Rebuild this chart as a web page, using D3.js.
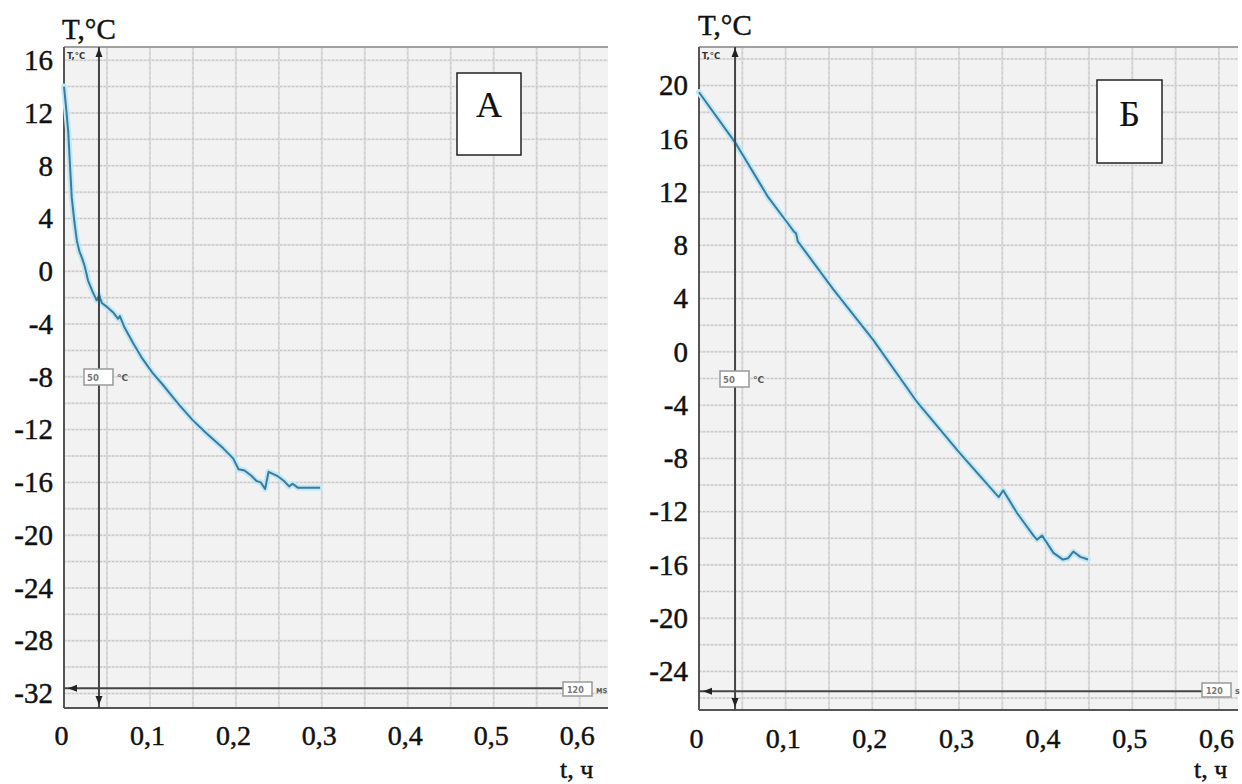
<!DOCTYPE html>
<html><head><meta charset="utf-8">
<script src="https://cdn.jsdelivr.net/npm/d3@7"></script>
<style>
body{margin:0;background:#fff;}
svg{display:block;}
.serif{font-family:"Liberation Serif","Times New Roman","DejaVu Serif",serif;stroke:#111;stroke-width:0.45px;}
</style></head><body>
<svg id="c" width="1242" height="784"></svg>
<script>
// ---- data ----
const timeA = [0.000,0.003,0.005,0.007,0.009,0.012,0.015,0.018,0.021,0.024,0.028,0.033,0.038,0.041,0.044,0.050,0.057,0.063,0.065,0.070,0.080,0.090,0.103,0.115,0.125,0.135,0.150,0.166,0.185,0.197,0.203,0.210,0.218,0.224,0.229,0.234,0.238,0.248,0.256,0.262,0.266,0.272,0.283,0.298];
const tempA = [14.0,12.0,10.5,8.0,5.6,3.8,2.3,1.5,1.0,0.4,-0.7,-1.5,-2.2,-1.8,-2.4,-2.7,-3.1,-3.6,-3.4,-4.2,-5.4,-6.5,-7.7,-8.6,-9.4,-10.2,-11.3,-12.3,-13.4,-14.2,-15.0,-15.1,-15.5,-15.9,-16.0,-16.5,-15.2,-15.5,-15.9,-16.3,-16.1,-16.4,-16.4,-16.4];
const timeB = [0.000,0.042,0.080,0.102,0.110,0.112,0.114,0.155,0.201,0.252,0.301,0.343,0.346,0.351,0.367,0.386,0.390,0.396,0.409,0.420,0.426,0.432,0.440,0.449];
const tempB = [19.5,15.7,11.6,9.7,9.0,8.9,8.3,4.7,0.9,-3.8,-7.6,-10.7,-10.9,-10.4,-12.1,-13.8,-14.1,-13.8,-15.1,-15.6,-15.5,-15.0,-15.4,-15.6];
const yTicksA = [16,12,8,4,0,-4,-8,-12,-16,-20,-24,-28,-32];
const yTicksB = [20,16,12,8,4,0,-4,-8,-12,-16,-20,-24];
const xTicks = [0,0.1,0.2,0.3,0.4,0.5,0.6];
const xTickLabels = ["0","0,1","0,2","0,3","0,4","0,5","0,6"];
const panelLabels = ["А","Б"];
const yTitle = "T,°C";
const xTitle = "t, ч";
const cursorTime = [0.0407,0.0416];
const cursorTemp = [-31.6,-25.5];
const cursorValue = "50";
const cursorUnit = "°C";
const spanValue = "120";
const spanUnit = ["мs","s"];
const innerTitle = "T,°C";

// ---- layout ----
const panels = [
  {left:64, top:47, right:608, bottom:708, xMax:0.633, yMin:-33.1, yMax:17,
   time:timeA, temp:tempA, yTicks:yTicksA, label:panelLabels[0], ct:cursorTime[0], cT:cursorTemp[0],
   box:[457,73,521,155], labelY:117, xLabY:745, titleX:62, titleY:39, xtX:560, vBox:[84,369], hBox:[563,682]},
  {left:699, top:47, right:1238, bottom:710, xMax:0.622, yMin:-26.9, yMax:22.9,
   time:timeB, temp:tempB, yTicks:yTicksB, label:panelLabels[1], ct:cursorTime[1], cT:cursorTemp[1],
   box:[1097,80,1162,163], labelY:126, xLabY:748, titleX:698, titleY:35, xtX:1194, vBox:[720,371], hBox:[1202,683]}
];
const svg = d3.select("#c");
const sans = "'DejaVu Sans',sans-serif";

panels.forEach((p,i)=>{
  const x = d3.scaleLinear().domain([0,p.xMax]).range([p.left,p.right]);
  const y = d3.scaleLinear().domain([p.yMin,p.yMax]).range([p.bottom,p.top]);
  const g = svg.append("g");
  const cid = "clip"+i;
  g.append("clipPath").attr("id",cid).append("rect")
    .attr("x",p.left).attr("y",p.top).attr("width",p.right-p.left).attr("height",p.bottom-p.top);
  g.append("rect").attr("x",p.left).attr("y",p.top).attr("width",p.right-p.left).attr("height",p.bottom-p.top)
    .attr("fill","#f2f2f2");
  const grid = g.append("g").attr("clip-path",`url(#${cid})`);
  const hVals = d3.range(Math.ceil(p.yMin/2)*2, p.yMax+0.01, 2);
  const vVals = d3.range(0.05, p.xMax, 0.05);
  grid.selectAll(".hb").data(hVals).join("line")
    .attr("x1",p.left).attr("x2",p.right).attr("y1",d=>y(d)).attr("y2",d=>y(d))
    .attr("stroke","#e0e0e0").attr("stroke-width",2);
  grid.selectAll(".vb").data(vVals).join("line")
    .attr("y1",p.top).attr("y2",p.bottom).attr("x1",d=>x(d)).attr("x2",d=>x(d))
    .attr("stroke","#dadada").attr("stroke-width",2);
  grid.selectAll(".hd").data(hVals).join("line")
    .attr("x1",p.left).attr("x2",p.right).attr("y1",d=>y(d)).attr("y2",d=>y(d))
    .attr("stroke","#c4c4c4").attr("stroke-width",1).attr("stroke-dasharray","2,2");
  grid.selectAll(".vd").data(vVals).join("line")
    .attr("y1",p.top).attr("y2",p.bottom).attr("x1",d=>x(d)).attr("x2",d=>x(d))
    .attr("stroke","#cacaca").attr("stroke-width",1).attr("stroke-dasharray","2,3");

  // frame
  g.append("line").attr("x1",p.left).attr("x2",p.right).attr("y1",p.top).attr("y2",p.top)
    .attr("stroke","#a0a0a0").attr("stroke-width",2);
  g.append("line").attr("x1",p.left).attr("x2",p.left).attr("y1",p.top).attr("y2",p.bottom)
    .attr("stroke","#555").attr("stroke-width",2);
  g.append("line").attr("x1",p.left).attr("x2",p.right).attr("y1",p.bottom).attr("y2",p.bottom)
    .attr("stroke","#555").attr("stroke-width",2);

  // curve
  const pts = p.time.map((t,k)=>[t,p.temp[k]]);
  const line = d3.line().x(d=>x(d[0])).y(d=>y(d[1]));
  g.append("path").attr("d",line(pts)).attr("fill","none").attr("stroke","#c2e8f6")
    .attr("stroke-width",6).attr("stroke-linejoin","round").attr("stroke-linecap","round");
  g.append("path").attr("d",line(pts)).attr("fill","none").attr("stroke","#3b7b9b")
    .attr("stroke-width",2).attr("stroke-linejoin","round");

  // cursors
  const cx = x(p.ct), cy = y(p.cT);
  g.append("line").attr("x1",cx).attr("x2",cx).attr("y1",p.top).attr("y2",p.bottom)
    .attr("stroke","#444").attr("stroke-width",2);
  g.append("line").attr("x1",p.left).attr("x2",p.hBox[0]).attr("y1",cy).attr("y2",cy)
    .attr("stroke","#444").attr("stroke-width",2);
  g.append("path").attr("d",`M${cx-3.5},${p.top+10}L${cx+3.5},${p.top+10}L${cx},${p.top+1}Z`).attr("fill","#222");
  g.append("path").attr("d",`M${cx-3.5},${p.bottom-12}L${cx+3.5},${p.bottom-12}L${cx},${p.bottom-3}Z`).attr("fill","#222");
  g.append("path").attr("d",`M${p.left+4},${cy}L${p.left+13},${cy-3.5}L${p.left+13},${cy+3.5}Z`).attr("fill","#222");
  g.append("text").attr("x",p.left+3).attr("y",p.top+12).text(innerTitle)
    .style("font-family",sans).attr("font-weight","bold").attr("font-size",8.5).attr("fill","#333");
  g.append("rect").attr("x",p.vBox[0]).attr("y",p.vBox[1]).attr("width",29).attr("height",16)
    .attr("fill","#fff").attr("stroke","#999").attr("stroke-width",1.5);
  g.append("text").attr("x",p.vBox[0]+3).attr("y",p.vBox[1]+12).text(cursorValue)
    .style("font-family",sans).attr("font-weight","bold").attr("font-size",8.5).attr("fill","#777");
  g.append("text").attr("x",p.vBox[0]+33).attr("y",p.vBox[1]+12).text(cursorUnit)
    .style("font-family",sans).attr("font-weight","bold").attr("font-size",9).attr("fill","#555");
  g.append("rect").attr("x",p.hBox[0]).attr("y",p.hBox[1]).attr("width",29).attr("height",14)
    .attr("fill","#fff").attr("stroke","#999").attr("stroke-width",1.5);
  g.append("text").attr("x",p.hBox[0]+4).attr("y",p.hBox[1]+11).text(spanValue)
    .style("font-family",sans).attr("font-weight","bold").attr("font-size",8).attr("fill","#777");
  g.append("text").attr("x",p.hBox[0]+33).attr("y",p.hBox[1]+11).text(spanUnit[i])
    .style("font-family",sans).attr("font-weight","bold").attr("font-size",8).attr("fill","#666");

  // panel letter box
  g.append("rect").attr("x",p.box[0]).attr("y",p.box[1]).attr("width",p.box[2]-p.box[0]).attr("height",p.box[3]-p.box[1])
    .attr("fill","#fff").attr("stroke","#222").attr("stroke-width",1.5);
  g.append("text").attr("class","serif").attr("x",(p.box[0]+p.box[2])/2).attr("y",p.labelY).attr("text-anchor","middle")
    .text(p.label).attr("font-size",36).attr("fill","#111").style("stroke-width","0.2px");

  // axes
  const ya = g.append("g").attr("transform",`translate(${p.left},0)`)
    .call(d3.axisLeft(y).tickValues(p.yTicks).tickSize(0).tickPadding(11).tickFormat(d=>String(d)));
  ya.attr("font-family",null).attr("font-size",null);
  ya.select(".domain").remove();
  ya.selectAll("text").attr("class","serif").attr("font-size",29).attr("fill","#111");
  const xa = g.append("g").attr("transform",`translate(0,${p.bottom})`)
    .call(d3.axisBottom(x).tickValues(xTicks).tickSize(0).tickFormat((d,k)=>xTickLabels[k]));
  xa.attr("font-family",null).attr("font-size",null);
  xa.select(".domain").remove();
  xa.selectAll("text").attr("class","serif").attr("y",p.xLabY-p.bottom).attr("dy",0).attr("dx",-3)
    .attr("font-size",28).attr("fill","#111");

  // titles
  g.append("text").attr("class","serif").attr("x",p.titleX).attr("y",p.titleY).text(yTitle)
    .attr("font-size",29).attr("fill","#111");
  g.append("text").attr("class","serif").attr("x",p.xtX).attr("y",778).text(xTitle)
    .attr("font-size",26).attr("fill","#111");
});
</script>
</body></html>
